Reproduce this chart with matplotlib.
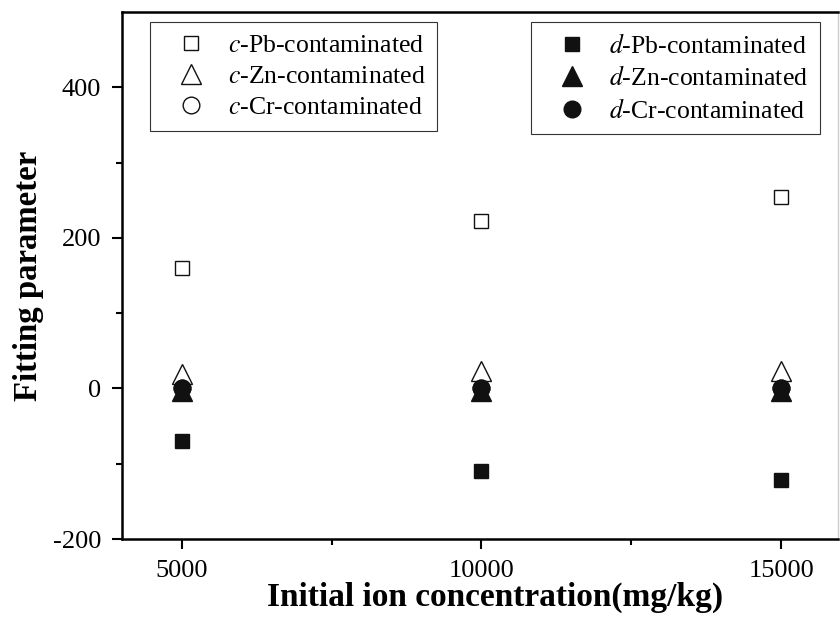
import matplotlib.pyplot as plt

plt.rcParams["font.family"] = ["Liberation Serif", "DejaVu Serif"]
plt.rcParams["mathtext.fontset"] = "stix"
plt.rcParams["axes.unicode_minus"] = False

# concentrazioni iniziali (mg/kg)
conc = [5000, 10000, 15000]

# parametro c
c_pb = [160, 222, 254]
c_zn = [19, 23, 23]
c_cr = [1, 1, 1]

# parametro d
d_pb = [-70, -110, -122]
d_zn = [-3, -3, -3]
d_cr = [1, 0, 0]

fig = plt.figure(figsize=(8.4, 6.17), dpi=100)
ax = fig.add_axes([0.1452, 0.1264, 0.8524, 0.8542])

nero = "#111111"
h_cpb, = ax.plot(conc, c_pb, "s", ms=10.5, mfc="white", mec=nero, mew=1.0, ls="none")
h_czn, = ax.plot(conc, c_zn, "^", ms=14, mfc="white", mec=nero, mew=1.0, ls="none")
h_ccr, = ax.plot(conc, c_cr, "o", ms=12, mfc="white", mec=nero, mew=1.0, ls="none")
h_dpb, = ax.plot(conc, d_pb, "s", ms=10.5, mfc=nero, mec=nero, ls="none")
h_dzn, = ax.plot(conc, d_zn, "^", ms=14, mfc=nero, mec=nero, ls="none")
h_dcr, = ax.plot(conc, d_cr, "o", ms=12, mfc=nero, mec=nero, ls="none")

ax.set_xlim(4000, 15950)
ax.set_ylim(-200, 500)
ax.set_xticks([5000, 10000, 15000])
ax.set_xticks([7500, 12500], minor=True)
ax.set_yticks([-200, 0, 200, 400])
ax.set_yticks([-100, 100, 300], minor=True)

ax.tick_params(axis="both", which="major", direction="out", length=7, width=1.5,
               labelsize=19, pad=8)
ax.tick_params(axis="both", which="minor", direction="out", length=4.5, width=1.5)
ax.tick_params(top=False, right=False)

for lato in ["left", "bottom", "top"]:
    ax.spines[lato].set_linewidth(1.8)
ax.spines["right"].set_color("#cccccc")
ax.spines["right"].set_linewidth(1.0)

ax.set_xlabel("Initial ion concentration(mg/kg)", fontsize=24, fontweight="bold")
ax.xaxis.set_label_coords(0.521, -0.082)
ax.set_ylabel("Fitting parameter", fontsize=23.6, fontweight="bold", labelpad=6.5)

stile_leg = dict(fontsize=18.5, frameon=True, fancybox=False, edgecolor="black",
                 handletextpad=0.3, borderpad=0.45, labelspacing=0.33, handlelength=2.3,
                 borderaxespad=0)

leg1 = ax.legend([h_cpb, h_czn, h_ccr],
                 ["$c$-Pb-contaminated", "$c$-Zn-contaminated", "$c$-Cr-contaminated"],
                 loc="upper left", bbox_to_anchor=(0.039, 0.981), **stile_leg)
leg1.get_frame().set_linewidth(0.8)
ax.add_artist(leg1)

leg2 = ax.legend([h_dpb, h_dzn, h_dcr],
                 ["$d$-Pb-contaminated", "$d$-Zn-contaminated", "$d$-Cr-contaminated"],
                 loc="upper right", bbox_to_anchor=(0.975, 0.981), **stile_leg)
leg2.get_frame().set_linewidth(0.8)

fig.savefig("out.png", dpi=100)
